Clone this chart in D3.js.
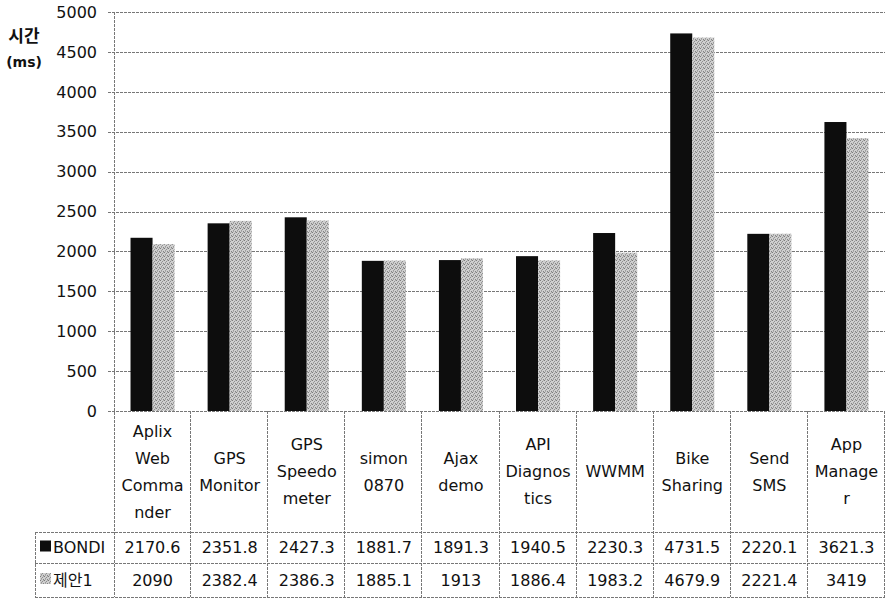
<!DOCTYPE html>
<html>
<head>
<meta charset="utf-8">
<script src="https://cdn.jsdelivr.net/npm/d3@7"></script>
<style>
  body { margin: 0; background: #fff; }
  text { font-family: "DejaVu Sans", "Noto Sans CJK KR", sans-serif; fill: #111; }
</style>
</head>
<body>
<div id="chart"></div>
<script>
// category labels (line breaks as in the table header)
var categories = ["Aplix\nWeb\nComma\nnder", "GPS\nMonitor", "GPS\nSpeedo\nmeter", "simon\n0870",
                  "Ajax\ndemo", "API\nDiagnos\ntics", "WWMM", "Bike\nSharing", "Send\nSMS", "App\nManage\nr"];
var seriesNames = ["BONDI", "제안1"];
var bondi = [2170.6, 2351.8, 2427.3, 1881.7, 1891.3, 1940.5, 2230.3, 4731.5, 2220.1, 3621.3];
var proposal = [2090, 2382.4, 2386.3, 1885.1, 1913, 1886.4, 1983.2, 4679.9, 2221.4, 3419];
var yTicks = [0, 500, 1000, 1500, 2000, 2500, 3000, 3500, 4000, 4500, 5000];

var w = 885;
var h = 599;
var plotLeft = 114, plotRight = 885, plotTop = 12, plotBottom = 411;
var tableLeft = 35;
var rowCat = 532, rowA = 563, rowB = 597;
var fs = "16px";

var svg = d3.select("#chart")
    .append("svg")
    .attr("width", w)
    .attr("height", h);

// stippled gray fill for the second series
var defs = svg.append("defs");
var pat = defs.append("pattern")
    .attr("id", "stipple")
    .attr("width", 4)
    .attr("height", 4)
    .attr("patternUnits", "userSpaceOnUse");
pat.append("rect").attr("width", 4).attr("height", 4).attr("fill", "#cfcfcf");
[[0, 0, "#7c7c7c"], [2, 1, "#8e8e8e"], [1, 2, "#9a9a9a"], [3, 3, "#858585"], [3, 0, "#b0b0b0"], [1, 3, "#a8a8a8"]]
    .forEach(function(p) {
        pat.append("rect").attr("x", p[0]).attr("y", p[1]).attr("width", 1).attr("height", 1).attr("fill", p[2]);
    });

var fills = ["#0d0d0d", "url(#stipple)"];

var x = d3.scaleBand()
    .domain(d3.range(categories.length))
    .range([plotLeft, plotRight])
    .padding(0);

var xSub = d3.scaleBand()
    .domain(seriesNames)
    .range([0, x.bandwidth()])
    .paddingInner(0)
    .paddingOuter(0.75);

var y = d3.scaleLinear()
    .domain([0, 5000])
    .range([plotBottom, plotTop]);

// grid lines
svg.append("g")
    .selectAll("line")
    .data(yTicks)
    .enter()
    .append("line")
    .attr("x1", plotLeft - 6)
    .attr("x2", plotRight)
    .attr("y1", function(d) { return Math.round(y(d)) + 0.5; })
    .attr("y2", function(d) { return Math.round(y(d)) + 0.5; })
    .attr("stroke", "#777")
    .attr("stroke-width", 1)
    .attr("stroke-dasharray", "3,1");

// y axis labels
svg.append("g")
    .selectAll("text")
    .data(yTicks)
    .enter()
    .append("text")
    .attr("x", 97)
    .attr("y", function(d) { return y(d); })
    .attr("dy", "0.36em")
    .attr("text-anchor", "end")
    .attr("font-size", fs)
    .text(function(d) { return d; });

// bars
var data = [bondi, proposal];
seriesNames.forEach(function(name, s) {
    svg.append("g")
        .selectAll("rect")
        .data(data[s])
        .enter()
        .append("rect")
        .attr("x", function(d, i) { return x(i) + xSub(name); })
        .attr("y", function(d) { return y(d); })
        .attr("width", xSub.bandwidth())
        .attr("height", function(d) { return y(0) - y(d); })
        .attr("fill", fills[s]);
});

// table lines
var tbl = svg.append("g")
    .attr("stroke", "#777")
    .attr("stroke-width", 1)
    .attr("stroke-dasharray", "3,1");

tbl.append("line").attr("x1", plotLeft + 0.5).attr("x2", plotLeft + 0.5).attr("y1", plotTop).attr("y2", rowB);
tbl.append("line").attr("x1", tableLeft + 0.5).attr("x2", tableLeft + 0.5).attr("y1", rowCat).attr("y2", rowB);
d3.range(1, categories.length + 1).forEach(function(i) {
    var xx = Math.round(plotLeft + i * x.step()) - 0.5;
    tbl.append("line").attr("x1", xx).attr("x2", xx).attr("y1", plotBottom).attr("y2", rowB);
});
[rowCat, rowA, rowB].forEach(function(yy) {
    tbl.append("line").attr("x1", tableLeft).attr("x2", plotRight).attr("y1", yy + 0.5).attr("y2", yy + 0.5);
});

// category labels
var lineH = 27;
var catMid = (plotBottom + rowCat) / 2;
svg.append("g")
    .selectAll("text")
    .data(categories)
    .enter()
    .append("text")
    .attr("text-anchor", "middle")
    .attr("font-size", fs)
    .each(function(d, i) {
        var lines = d.split("\n");
        var t = d3.select(this);
        lines.forEach(function(l, k) {
            t.append("tspan")
                .attr("x", x(i) + x.bandwidth() / 2)
                .attr("y", catMid + (k - (lines.length - 1) / 2) * lineH)
                .attr("dy", "0.36em")
                .text(l);
        });
    });

// value rows
var rows = [[rowCat, rowA], [rowA, rowB]];
data.forEach(function(vals, s) {
    var mid = (rows[s][0] + rows[s][1]) / 2;
    svg.append("g")
        .selectAll("text")
        .data(vals)
        .enter()
        .append("text")
        .attr("x", function(d, i) { return x(i) + x.bandwidth() / 2; })
        .attr("y", mid)
        .attr("dy", "0.36em")
        .attr("text-anchor", "middle")
        .attr("font-size", fs)
        .text(function(d) { return d; });

    // legend key
    svg.append("rect")
        .attr("x", 40)
        .attr("y", mid - 7)
        .attr("width", 11)
        .attr("height", 11)
        .attr("fill", fills[s]);
    svg.append("text")
        .attr("x", 53)
        .attr("y", mid)
        .attr("dy", "0.36em")
        .attr("font-size", fs)
        .text(seriesNames[s]);
});

// y axis title
svg.append("text")
    .attr("x", 24)
    .attr("y", 36)
    .attr("dy", "0.36em")
    .attr("text-anchor", "middle")
    .attr("font-size", "17px")
    .attr("font-weight", "bold")
    .text("시간");
svg.append("text")
    .attr("x", 24)
    .attr("y", 62)
    .attr("dy", "0.36em")
    .attr("text-anchor", "middle")
    .attr("font-size", "14px")
    .attr("font-weight", "bold")
    .text("(ms)");
</script>
</body>
</html>
